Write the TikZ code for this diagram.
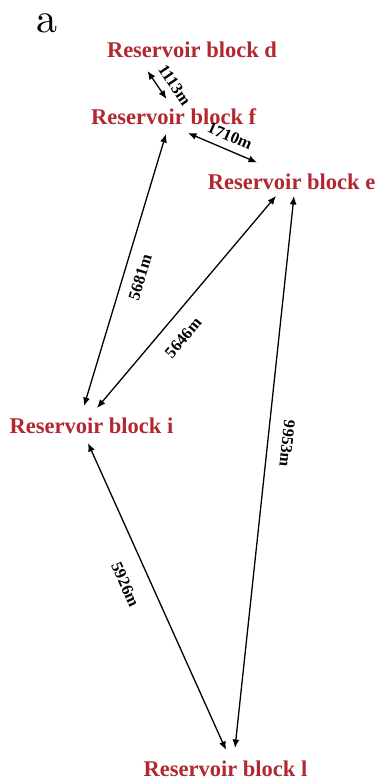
\documentclass[tikz,border=0pt]{standalone}
\usepackage{fontspec}
\newfontfamily\serifbold{Liberation Serif}
\newfontfamily\panelfam{lmroman10-regular.otf}
\usetikzlibrary{arrows.meta}
\definecolor{blockred}{RGB}{178,40,48}
\newcommand\rbfont{\serifbold\bfseries\fontsize{22.5}{24}\selectfont}
\newcommand\distfont{\serifbold\bfseries\fontsize{16.5}{18}\selectfont}
\newcommand\panelfont{\panelfam\fontsize{42}{42}\selectfont}
\begin{document}
\begin{tikzpicture}[x=1pt,y=1pt,
  block/.style={text=blockred, font=\rbfont, inner sep=0pt, anchor=base},
  dist/.style={font=\distfont, inner sep=0pt, sloped},
  tip/.style={},
  link/.style={{Latex[length=8.5pt,width=7pt]}-{Latex[length=8.5pt,width=7pt]}, line width=1.3pt}]
\useasboundingbox (0,0) rectangle (379,-783);

% panel letter
\node[font=\panelfont, inner sep=0pt, anchor=base] (panel) at (47,-32.5) {a};

% reservoir blocks
\node[block] (d) at (192,-58) {Reservoir block d};
\node[block] (f) at (173.7,-125) {Reservoir block f};
\node[block] (e) at (291.5,-190) {Reservoir block e};
\node[block] (i) at (91.5,-433) {Reservoir block i};
\node[block] (l) at (225.5,-776) {Reservoir block l};

% distances between blocks
\draw[link] ([shift={(-44.5,-13)}]d.base) --
  node[dist, pos=0.8, above=8.2pt] {1113m} ([shift={(-7.2,26)}]f.base);
\draw[link] ([shift={(14.3,-8)}]f.base) --
  node[dist, pos=0.53, above=7.3pt] {1710m} ([shift={(-34.5,27.5)}]e.base);
\draw[link] ([shift={(-7.5,27)}]i.base) --
  node[dist, pos=0.49, below=10.4pt] {5681m} ([shift={(-7.7,-9)}]f.base);
\draw[link] ([shift={(5.5,25)}]i.base) --
  node[dist, pos=0.394, below=14.3pt] {5646m} ([shift={(-15.5,-6)}]e.base);
\draw[link] ([shift={(2.5,-6)}]e.base) --
  node[dist, pos=0.445, above=13.4pt, allow upside down] {9953m} ([shift={(9.5,28)}]l.base);
\draw[link] ([shift={(-3.5,-10)}]i.base) --
  node[dist, pos=0.429, below=17.8pt] {5926m} ([shift={(0.5,26)}]l.base);
\end{tikzpicture}
\end{document}
